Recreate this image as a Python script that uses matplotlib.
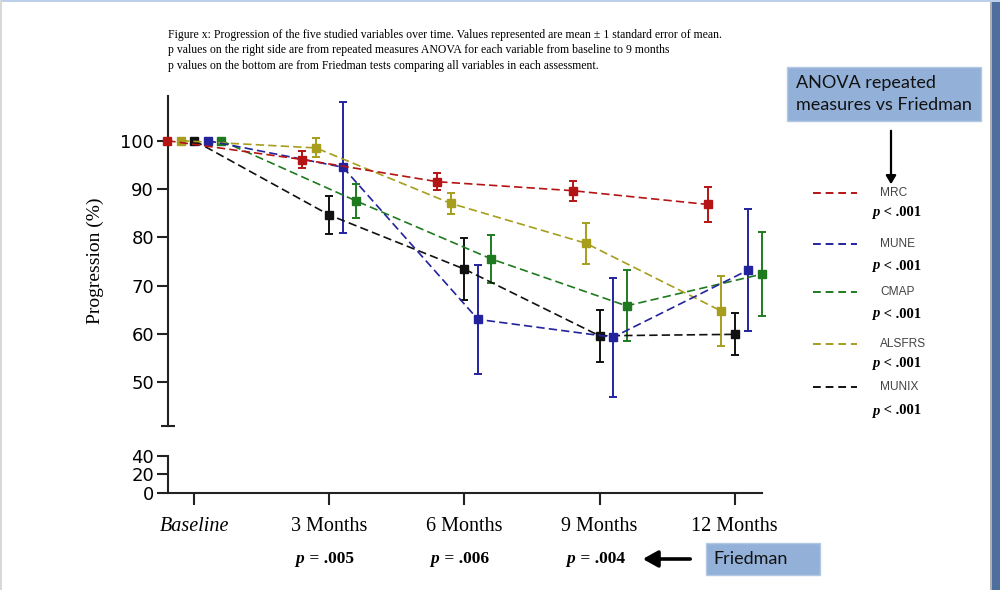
import numpy as np
import matplotlib
matplotlib.use("Agg")
import matplotlib.pyplot as plt
from matplotlib.patches import Rectangle, FancyArrowPatch
from matplotlib.lines import Line2D

# data (mean +/- 1 SEM, % of baseline)
timepoints = ["Baseline", "3 Months", "6 Months", "9 Months", "12 Months"]
variables = ["MRC", "MUNE", "CMAP", "ALSFRS", "MUNIX"]

mrc = [100, 96.1, 91.5, 89.65, 86.8]
mrc_err = [0, 1.85, 1.75, 2.1, 3.6]
mune = [100, 94.5, 63.0, 59.3, 73.2]
mune_err = [0, 13.6, 11.3, 12.3, 12.65]
cmap = [100, 87.5, 75.5, 65.8, 72.35]
cmap_err = [0, 3.5, 4.9, 7.35, 8.7]
alsfrs = [100, 98.5, 87.0, 78.75, 64.75]
alsfrs_err = [0, 1.95, 2.2, 4.25, 7.2]
munix = [100, 84.6, 73.4, 59.6, 59.9]
munix_err = [0, 4.0, 6.35, 5.4, 4.35]

anova_p = ["< .001", "< .001", "< .001", "< .001", "< .001"]
friedman_p = ["= .005", "= .006", "= .004"]

# styling
colors = {"MRC": "#b51414", "MUNE": "#23239e", "CMAP": "#1f7a1f",
          "ALSFRS": "#a69e1c", "MUNIX": "#111111"}
offsets = {"MRC": -0.2, "ALSFRS": -0.1, "MUNIX": 0.0, "MUNE": 0.1, "CMAP": 0.2}
series = {"MRC": (mrc, mrc_err), "MUNE": (mune, mune_err), "CMAP": (cmap, cmap_err),
          "ALSFRS": (alsfrs, alsfrs_err), "MUNIX": (munix, munix_err)}

serif = "Liberation Serif"

fig = plt.figure(figsize=(10, 5.9), dpi=100)

ax = fig.add_axes([0.168, 0.278, 0.594, 0.5593])
axb = fig.add_axes([0.168, 0.1649, 0.594, 0.0627])

x = np.arange(len(timepoints))
for name in ["MUNIX", "CMAP", "ALSFRS", "MUNE", "MRC"]:
    vals, err = series[name]
    eb = ax.errorbar(x + offsets[name], vals, yerr=err, color=colors[name],
                     linestyle="--", dashes=(5, 2.5), lw=1.2, marker="s", ms=6,
                     capsize=3.2, elinewidth=1.4, capthick=1.4, zorder=3)
    for art in eb.lines[0:1] + tuple(eb.lines[1]) + tuple(eb.lines[2]):
        art.set_clip_on(False)

xlim = (-0.195, 4.203)
for a in (ax, axb):
    a.set_xlim(*xlim)
    a.spines["top"].set_visible(False)
    a.spines["right"].set_visible(False)
    a.spines["left"].set_linewidth(1.5)
    a.spines["left"].set_color("#222222")
    a.tick_params(axis="y", direction="out", length=8, width=1.5,
                  color="#222222", labelsize=13, pad=2)

ax.spines["bottom"].set_visible(False)
ax.set_ylim(40.93, 109.25)
ax.set_yticks([50, 60, 70, 80, 90, 100])
ax.set_xticks([])
ax.plot([0], [0], marker="_", ms=10, mew=1.5, color="#222222",
        transform=ax.transAxes, clip_on=False)
ax.set_ylabel("Progression (%)", family=serif, fontsize=14, labelpad=12)

axb.set_ylim(0, 40)
axb.set_yticks([0, 20, 40])
axb.spines["bottom"].set_linewidth(1.5)
axb.spines["bottom"].set_color("#222222")
axb.set_xticks(x)
axb.set_xticklabels(timepoints, family=serif, fontsize=14.5)
axb.get_xticklabels()[0].set_style("italic")
axb.tick_params(axis="x", direction="out", length=8.5, width=1.5,
                color="#222222", pad=9)

# caption
caption = ["Figure x: Progression of the five studied variables over time. "
           "Values represented are mean \u00b1 1 standard error of mean.",
           "p values on the right side are from repeated measures ANOVA for "
           "each variable from baseline to 9 months",
           "p values on the bottom are from Friedman tests comparing all "
           "variables in each assessment."]
for i, line in enumerate(caption):
    fig.text(0.168, 1 - (35 + 15.5 * i) / 590, line, family=serif,
             fontsize=8.5, va="center", ha="left")

# legend with ANOVA p values
leg_y = [192.7, 244, 292.3, 344, 386.7]
p_y = [212.7, 266, 314, 363.3, 411]
for i, name in enumerate(variables):
    yy = 1 - leg_y[i] / 590
    fig.add_artist(Line2D([0.813, 0.857], [yy, yy], transform=fig.transFigure,
                          color=colors[name], lw=1.4, linestyle="--", dashes=(4, 2.5)))
    fig.text(0.880, yy, name, family="Liberation Sans", fontsize=8.6,
             color="#444444", va="center", ha="left")
    py = 1 - p_y[i] / 590
    fig.text(0.8795, py, "p", family=serif, fontsize=10.5, weight="bold",
             style="italic", va="center", ha="right")
    fig.text(0.8805, py, " " + anova_p[i], family=serif, fontsize=10.5,
             weight="bold", va="center", ha="left")

# Friedman p values under the time points
for i, txt in enumerate(friedman_p):
    xf = (ax.transData.transform((i + 1, 0))[0] - 25) / 1000
    fig.text(xf, 1 - 559 / 590, "p", family=serif, fontsize=12.5,
             weight="bold", style="italic", va="center", ha="right")
    fig.text(xf + 0.001, 1 - 559 / 590, " " + txt, family=serif, fontsize=12.5,
             weight="bold", va="center", ha="left")

# callout boxes
box_c = "#93b1d8"
fig.add_artist(Rectangle((0.7873, 1 - 121 / 590), 0.1934, 53.7 / 590,
                         transform=fig.transFigure, facecolor=box_c,
                         edgecolor="#b3c8e3", lw=1))
fig.text(0.796, 1 - 82.7 / 590, "ANOVA repeated", family="Lato", fontsize=13,
         va="center", ha="left", color="#111111")
fig.text(0.796, 1 - 105 / 590, "measures vs Friedman", family="Lato",
         fontsize=13, va="center", ha="left", color="#111111")
fig.add_artist(Rectangle((0.706, 1 - 575 / 590), 0.114, 32 / 590,
                         transform=fig.transFigure, facecolor=box_c,
                         edgecolor="#b3c8e3", lw=1))
fig.text(0.713, 1 - 559 / 590, "Friedman", family="Lato", fontsize=13,
         va="center", ha="left", color="#111111")

# arrows
fig.add_artist(FancyArrowPatch(
    (0.891, 1 - 128 / 590), (0.891, 1 - 187 / 590), transform=fig.transFigure,
    arrowstyle="-|>,head_length=5,head_width=3", lw=1.6, color="black",
    mutation_scale=1))
fig.add_artist(FancyArrowPatch(
    (0.693, 1 - 559 / 590), (0.640, 1 - 559 / 590), transform=fig.transFigure,
    arrowstyle="-|>,head_length=9,head_width=5", lw=2.6, color="black",
    mutation_scale=1))

# window frame
fig.add_artist(Rectangle((0.992, 0), 0.008, 1, transform=fig.transFigure,
                         facecolor="#4e6f9e", edgecolor="none"))
fig.add_artist(Rectangle((0.990, 0), 0.002, 1, transform=fig.transFigure,
                         facecolor="#b0b0b0", edgecolor="none"))
fig.add_artist(Rectangle((0, 0.996), 1, 0.004, transform=fig.transFigure,
                         facecolor="#bcd0ea", edgecolor="none"))
fig.add_artist(Rectangle((0, 0), 0.002, 1, transform=fig.transFigure,
                         facecolor="#d8d8d8", edgecolor="none"))

fig.savefig("out.png", dpi=100)
